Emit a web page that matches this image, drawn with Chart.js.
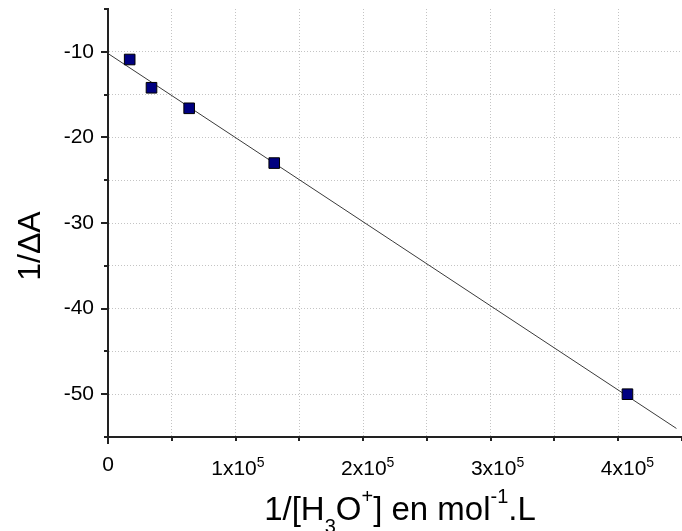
<!DOCTYPE html>
<html>
<head>
<meta charset="utf-8">
<script src="https://cdn.jsdelivr.net/npm/chart.js@4.4.0/dist/chart.umd.min.js"></script>
<style>
  body { margin: 0; background: #fff; }
  #wrap { width: 682px; height: 531px; }
</style>
</head>
<body>
<div id="wrap"><canvas id="homeChart"></canvas></div>
<script>
// 1/[H3O+] (mol-1.L) et 1/dA
const invConc = [16700, 33500, 62500, 128000, 400000];
const invAbs = [-10.9, -14.2, -16.6, -23.0, -50.0];
// droite d'ajustement, les deux bouts
const fitX = [0, 437700];
const fitY = [-10.2, -54.0];
// labels sous l'axe x
const xLabelValues = [0, 100000, 200000, 300000, 400000];

const FONT = "'Liberation Sans', Arial, sans-serif";
const AXIS = '#222';
const GRID = '#c4c4c4';

function drawParts(ctx, parts, x, y, align) {
    let width = 0;
    parts.forEach(p => {
        ctx.font = p.size + 'px ' + FONT;
        p.w = ctx.measureText(p.t).width;
        width += p.w;
    });
    let cx = align === 'center' ? x - width / 2 : x;
    parts.forEach(p => {
        ctx.font = p.size + 'px ' + FONT;
        ctx.fillText(p.t, cx, y + (p.dy || 0));
        cx += p.w;
    });
}

// ticks majeurs/mineurs, labels en puissance de 10 et titres avec indices
const axisDecor = {
    id: 'axisDecor',
    afterDraw(chart) {
        const ctx = chart.ctx;
        const xs = chart.scales.x, ys = chart.scales.y;
        const area = chart.chartArea;
        ctx.save();
        ctx.strokeStyle = AXIS;
        ctx.lineWidth = 2;
        ctx.beginPath();
        xs.ticks.forEach(t => {
            const px = Math.round(xs.getPixelForValue(t.value));
            const len = t.value % 100000 === 0 ? 7 : 4;
            ctx.moveTo(px, area.bottom);
            ctx.lineTo(px, area.bottom + len);
        });
        ys.ticks.forEach(t => {
            const py = Math.round(ys.getPixelForValue(t.value));
            const len = t.value % 10 === 0 ? 7 : 4;
            ctx.moveTo(area.left, py);
            ctx.lineTo(area.left - len, py);
        });
        ctx.stroke();

        ctx.fillStyle = '#000';
        ctx.textAlign = 'left';
        ctx.textBaseline = 'alphabetic';
        xLabelValues.forEach(v => {
            const px = xs.getPixelForValue(v);
            if (v === 0) {
                drawParts(ctx, [{t: '0', size: 21}], px, area.bottom + 34, 'center');
            } else {
                drawParts(ctx, [
                    {t: (v / 100000) + 'x10', size: 21},
                    {t: '5', size: 14, dy: -8}
                ], px, area.bottom + 38, 'center');
            }
        });

        drawParts(ctx, [
            {t: '1/[H', size: 33},
            {t: '3', size: 20, dy: 13},
            {t: 'O', size: 33},
            {t: '+', size: 20, dy: -17},
            {t: '] en mol', size: 33},
            {t: '-1', size: 20, dy: -17},
            {t: '.L', size: 33}
        ], 400, 520, 'center');

        ctx.translate(40, 246);
        ctx.rotate(-Math.PI / 2);
        drawParts(ctx, [{t: '1/ΔA', size: 32}], 0, 0, 'center');
        ctx.restore();
    }
};

let ctx = document.getElementById('homeChart');

let myChart = new Chart(ctx, {
    type: 'scatter',
    data: {
        datasets: [{
                label: 'mesures',
                data: invConc.map((x, i) => ({x: x, y: invAbs[i]})),
                pointStyle: 'rect',
                pointRadius: 7.5,
                pointHoverRadius: 7.5,
                backgroundColor: '#000080',
                borderColor: '#000',
                borderWidth: 1
            },
            {
                label: 'ajustement',
                data: fitX.map((x, i) => ({x: x, y: fitY[i]})),
                showLine: true,
                pointRadius: 0,
                borderColor: '#3a3a3a',
                borderWidth: 1,
                fill: false
            }
        ]
    },
    options: {
        responsive: true,
        maintainAspectRatio: false,
        animation: false,
        layout: {autoPadding: false, padding: {top: 9, right: 0, left: 0, bottom: 0}},
        plugins: {
            legend: {display: false},
            tooltip: {enabled: false}
        },
        scales: {
            x: {
                type: 'linear',
                min: 0,
                max: 442000,
                ticks: {display: false, stepSize: 50000, includeBounds: false},
                grid: {
                    drawTicks: false,
                    lineWidth: 1,
                    color: c => c.tick && c.tick.value > 0 ? GRID : 'transparent'
                },
                border: {color: AXIS, width: 2, dash: [1, 2]},
                afterFit(s) {
                    s.height = 94;
                    s.paddingLeft = 0;
                    s.paddingRight = 0;
                }
            },
            y: {
                min: -55,
                max: -5,
                ticks: {
                    stepSize: 5,
                    autoSkip: false,
                    padding: 14,
                    color: '#000',
                    font: {family: FONT, size: 21},
                    callback: v => v % 10 === 0 ? String(v) : ''
                },
                grid: {
                    drawTicks: false,
                    lineWidth: 1,
                    color: c => c.tick && c.tick.value > -55 && c.tick.value < -5 ? GRID : 'transparent'
                },
                border: {color: AXIS, width: 2, dash: [1, 2]},
                afterFit(s) {
                    s.width = 108;
                    s.paddingTop = 0;
                    s.paddingBottom = 0;
                }
            }
        }
    },
    plugins: [axisDecor]
});
</script>
</body>
</html>
